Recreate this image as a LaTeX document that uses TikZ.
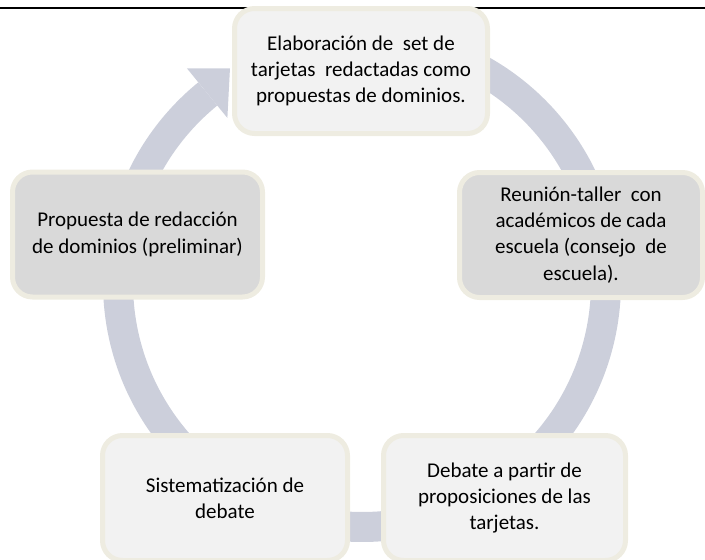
\documentclass[tikz,border=0pt]{standalone}
\usepackage{fontspec}
\setmainfont{Carlito}
\usetikzlibrary{calc}
\definecolor{ringcol}{RGB}{204,207,219}
\definecolor{boxborder}{RGB}{238,236,225}
\definecolor{lightfill}{RGB}{242,242,242}
\definecolor{darkfill}{RGB}{217,217,217}
\tikzset{
  cyclebox/.style={draw=boxborder, line width=5pt, rounded corners=20pt,
    align=center, inner sep=4pt, minimum height=125pt,
    font=\fontsize{21}{26.3}\selectfont, text=black},
  lightbox/.style={cyclebox, fill=lightfill},
  darkbox/.style={cyclebox, fill=darkfill},
  ring/.style={draw=ringcol, line width=30pt},
  ringhead/.style={fill=ringcol, draw=none},
  topline/.style={draw=black, line width=2pt}
}
\begin{document}
\begin{tikzpicture}[x=1pt,y=-1pt]
\useasboundingbox (0,0) rectangle (705,560);
% top rule
\coordinate (ruleL) at (0,8.3);
\coordinate (ruleR) at (705,8.3);
\draw[topline] (ruleL) -- (ruleR);
% cycle arrow
\coordinate (c) at (362,283);
\draw[ring] ($(c)+(-129.2:244)$) arc[start angle=-129.2, end angle=-450, radius=244];
\fill[ringhead] ($(c)+(-129.2:277)$) -- ($(c)+(-121.6:252)$) -- ($(c)+(-129.2:213)$) -- cycle;
% boxes
\node[lightbox, minimum width=253pt] (n1) at (361,71)
  {Elaboración de~ set de\\tarjetas~ redactadas como\\propuestas de dominios.};
\node[darkbox, minimum width=243pt] (n2) at (581,235)
  {Reunión-taller~ con\\académicos de cada\\escuela (consejo~ de\\escuela).};
\node[lightbox, minimum width=242pt] (n3) at (504.5,498)
  {Debate a partir de\\proposiciones de las\\tarjetas.};
\node[lightbox, minimum width=245pt] (n4) at (225,498)
  {Sistematización de\\debate};
\node[darkbox, minimum width=250pt] (n5) at (137.5,234.5)
  {Propuesta de redacción\\de dominios (preliminar)};
\end{tikzpicture}
\end{document}
